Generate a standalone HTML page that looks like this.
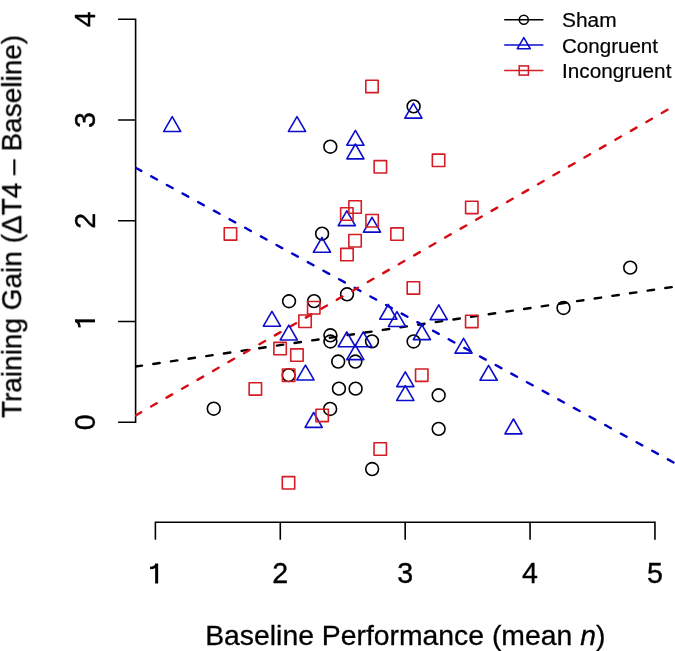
<!DOCTYPE html><html><head><meta charset="utf-8"><style>html,body{margin:0;padding:0;background:#fff;}body{width:675px;height:651px;overflow:hidden;}svg{display:block;}text{font-family:"Liberation Sans",sans-serif;fill:#000;}</style></head><body>
<svg width="675" height="651" viewBox="0 0 675 651">
<rect width="675" height="651" fill="#fff"/>
<defs><clipPath id="pr"><rect x="135.6" y="0" width="539.4" height="522.3"/></clipPath></defs>
<path d="M118.1,19.25 H135.6 V422.25 H118.1 M118.1,321.50 H135.6 M118.1,220.75 H135.6 M118.1,120.00 H135.6 M155.4,539.8 V522.3 H654.95 V539.8 M280.29,522.3 V539.8 M405.18,522.3 V539.8 M530.06,522.3 V539.8" fill="none" stroke="#000" stroke-width="1.6" stroke-linecap="butt" stroke-linejoin="miter"/>
<defs><filter id="gs" x="-0.1" y="-0.1" width="1.2" height="1.2"><feOffset dx="0" dy="0"/></filter></defs><g filter="url(#gs)">
<g transform="translate(155.40 583.3)"><path d="M1.25,0.2 V-19.75" fill="none" stroke="#000" stroke-width="3.0"/><path d="M1.6,-19.3 C0.6,-16.6 -2.2,-15.4 -5.3,-15.2" fill="none" stroke="#000" stroke-width="2.5"/></g>
<text transform="translate(280.29 583.3) scale(1 1.02)" font-size="28.6" text-anchor="middle" stroke="#000" stroke-width="0.35">2</text>
<text transform="translate(405.18 583.3) scale(1 1.02)" font-size="28.6" text-anchor="middle" stroke="#000" stroke-width="0.35">3</text>
<text transform="translate(530.06 583.3) scale(1 1.02)" font-size="28.6" text-anchor="middle" stroke="#000" stroke-width="0.35">4</text>
<text transform="translate(654.95 583.3) scale(1 1.02)" font-size="28.6" text-anchor="middle" stroke="#000" stroke-width="0.35">5</text>
<text transform="translate(94.8 422.25) rotate(-90) scale(1 1.02)" font-size="28.6" text-anchor="middle" stroke="#000" stroke-width="0.35">0</text>
<g transform="translate(94.8 321.50) rotate(-90) translate(-0.6 0)"><path d="M1.25,0.2 V-19.75" fill="none" stroke="#000" stroke-width="3.0"/><path d="M1.6,-19.3 C0.6,-16.6 -2.2,-15.4 -5.3,-15.2" fill="none" stroke="#000" stroke-width="2.5"/></g>
<text transform="translate(94.8 220.75) rotate(-90) scale(1 1.02)" font-size="28.6" text-anchor="middle" stroke="#000" stroke-width="0.35">2</text>
<text transform="translate(94.8 120.00) rotate(-90) scale(1 1.02)" font-size="28.6" text-anchor="middle" stroke="#000" stroke-width="0.35">3</text>
<text transform="translate(94.8 19.25) rotate(-90) scale(1 1.02)" font-size="28.6" text-anchor="middle" stroke="#000" stroke-width="0.35">4</text>
<text transform="translate(0 644.9) scale(1 1.02)" x="205.2" y="0" font-size="28" stroke="#000" stroke-width="0.3" textLength="400.2" lengthAdjust="spacingAndGlyphs">Baseline Performance (mean <tspan font-style="italic">n</tspan>)</text>
<text transform="translate(20.75 226.5) rotate(-90) scale(1 1.02)" font-size="28" stroke="#000" stroke-width="0.3" text-anchor="middle">Training Gain (ΔT4 – Baseline)</text>
</g>
<g clip-path="url(#pr)">
<g fill="none" stroke="#000000" stroke-width="1.6">
<circle cx="213.75" cy="408.7" r="6.4"/>
<circle cx="289.05" cy="301.25" r="6.4"/>
<circle cx="314.05" cy="301.15" r="6.4"/>
<circle cx="322.1" cy="233.65" r="6.4"/>
<circle cx="330.3" cy="146.7" r="6.4"/>
<circle cx="347.05" cy="294.3" r="6.4"/>
<circle cx="330.4" cy="335.3" r="6.4"/>
<circle cx="330.4" cy="341.5" r="6.4"/>
<circle cx="338.2" cy="361.55" r="6.4"/>
<circle cx="355.35" cy="361.55" r="6.4"/>
<circle cx="372.0" cy="341.35" r="6.4"/>
<circle cx="338.95" cy="388.65" r="6.4"/>
<circle cx="355.6" cy="388.65" r="6.4"/>
<circle cx="330.15" cy="408.95" r="6.4"/>
<circle cx="372.15" cy="469.05" r="6.4"/>
<circle cx="413.6" cy="106.4" r="6.4"/>
<circle cx="413.6" cy="341.45" r="6.4"/>
<circle cx="438.65" cy="395.25" r="6.4"/>
<circle cx="438.65" cy="428.85" r="6.4"/>
<circle cx="563.5" cy="307.95" r="6.4"/>
<circle cx="630.2" cy="267.65" r="6.4"/>
<circle cx="288.65" cy="375.1" r="6.4"/>
</g>
<line x1="135.60" y1="366.56" x2="675.50" y2="286.55" stroke="#000000" stroke-width="2.4" stroke-dasharray="6.5 11.35" stroke-linecap="round"/>
<line x1="135.60" y1="167.79" x2="675.50" y2="463.55" stroke="#0000C8" stroke-width="2.4" stroke-dasharray="6.5 11.35" stroke-linecap="round"/>
<line x1="135.60" y1="415.42" x2="675.50" y2="105.19" stroke="#D80A12" stroke-width="2.4" stroke-dasharray="6.5 11.35" stroke-linecap="round"/>
<g fill="none" stroke="#0C0CCC" stroke-width="1.6" stroke-linejoin="round">
<polygon points="172.20,116.69 180.78,131.56 163.61,131.56"/>
<polygon points="297.00,116.59 305.58,131.46 288.42,131.46"/>
<polygon points="355.40,130.39 363.98,145.26 346.81,145.26"/>
<polygon points="355.40,143.99 363.98,158.86 346.81,158.86"/>
<polygon points="413.40,103.29 421.98,118.16 404.81,118.16"/>
<polygon points="346.80,210.79 355.38,225.66 338.22,225.66"/>
<polygon points="372.00,217.29 380.58,232.16 363.42,232.16"/>
<polygon points="321.95,237.39 330.53,252.26 313.37,252.26"/>
<polygon points="271.95,311.34 280.53,326.21 263.37,326.21"/>
<polygon points="288.80,325.14 297.38,340.01 280.22,340.01"/>
<polygon points="346.80,331.89 355.38,346.76 338.22,346.76"/>
<polygon points="363.25,331.89 371.83,346.76 354.67,346.76"/>
<polygon points="355.30,344.79 363.88,359.66 346.72,359.66"/>
<polygon points="388.30,304.39 396.88,319.26 379.72,319.26"/>
<polygon points="397.00,311.59 405.58,326.46 388.42,326.46"/>
<polygon points="421.90,324.79 430.48,339.66 413.31,339.66"/>
<polygon points="438.75,304.79 447.33,319.66 430.17,319.66"/>
<polygon points="463.55,338.29 472.13,353.16 454.97,353.16"/>
<polygon points="488.60,365.39 497.19,380.26 480.02,380.26"/>
<polygon points="513.45,418.99 522.04,433.86 504.87,433.86"/>
<polygon points="405.30,371.79 413.88,386.66 396.72,386.66"/>
<polygon points="405.30,385.59 413.88,400.46 396.72,400.46"/>
<polygon points="305.45,365.09 314.03,379.96 296.87,379.96"/>
<polygon points="313.65,412.49 322.23,427.36 305.06,427.36"/>
</g>
<g fill="none" stroke="#D41C24" stroke-width="1.6" stroke-linejoin="round">
<rect x="224.25" y="227.75" width="12.40" height="12.40"/>
<rect x="365.80" y="80.25" width="12.40" height="12.40"/>
<rect x="374.15" y="160.65" width="12.40" height="12.40"/>
<rect x="432.35" y="154.10" width="12.40" height="12.40"/>
<rect x="465.60" y="201.20" width="12.40" height="12.40"/>
<rect x="348.90" y="200.80" width="12.40" height="12.40"/>
<rect x="340.65" y="207.80" width="12.40" height="12.40"/>
<rect x="365.90" y="214.55" width="12.40" height="12.40"/>
<rect x="390.85" y="227.90" width="12.40" height="12.40"/>
<rect x="348.85" y="234.55" width="12.40" height="12.40"/>
<rect x="340.80" y="248.35" width="12.40" height="12.40"/>
<rect x="307.55" y="301.55" width="12.40" height="12.40"/>
<rect x="298.85" y="315.05" width="12.40" height="12.40"/>
<rect x="273.90" y="342.35" width="12.40" height="12.40"/>
<rect x="290.75" y="348.85" width="12.40" height="12.40"/>
<rect x="282.45" y="369.05" width="12.40" height="12.40"/>
<rect x="249.15" y="382.70" width="12.40" height="12.40"/>
<rect x="315.95" y="409.25" width="12.40" height="12.40"/>
<rect x="407.20" y="281.75" width="12.40" height="12.40"/>
<rect x="465.55" y="315.25" width="12.40" height="12.40"/>
<rect x="415.55" y="368.95" width="12.40" height="12.40"/>
<rect x="374.05" y="442.80" width="12.40" height="12.40"/>
<rect x="282.30" y="476.60" width="12.40" height="12.40"/>
</g>
</g>
<line x1="504.2" y1="19.7" x2="543.4" y2="19.7" stroke="#000000" stroke-width="1.55"/>
<circle cx="523.8" cy="19.7" r="4.5" fill="none" stroke="#000000" stroke-width="1.55"/>
<line x1="504.2" y1="45.0" x2="543.4" y2="45.0" stroke="#0C0CCC" stroke-width="1.55"/>
<polygon points="523.80,37.54 530.26,48.73 517.34,48.73" fill="none" stroke="#0C0CCC" stroke-width="1.55" stroke-linejoin="round"/>
<line x1="504.2" y1="70.5" x2="543.4" y2="70.5" stroke="#D41C24" stroke-width="1.55"/>
<rect x="519.20" y="65.90" width="9.2" height="9.2" fill="none" stroke="#D41C24" stroke-width="1.55"/>
<g filter="url(#gs)">
<text x="562" y="27.20" font-size="20" stroke="#000" stroke-width="0.2" textLength="54.6" lengthAdjust="spacingAndGlyphs">Sham</text>
<text x="562" y="52.55" font-size="20" stroke="#000" stroke-width="0.2" textLength="96.0" lengthAdjust="spacingAndGlyphs">Congruent</text>
<text x="562" y="77.90" font-size="20" stroke="#000" stroke-width="0.2" textLength="109.4" lengthAdjust="spacingAndGlyphs">Incongruent</text>
</g>
</svg></body></html>
